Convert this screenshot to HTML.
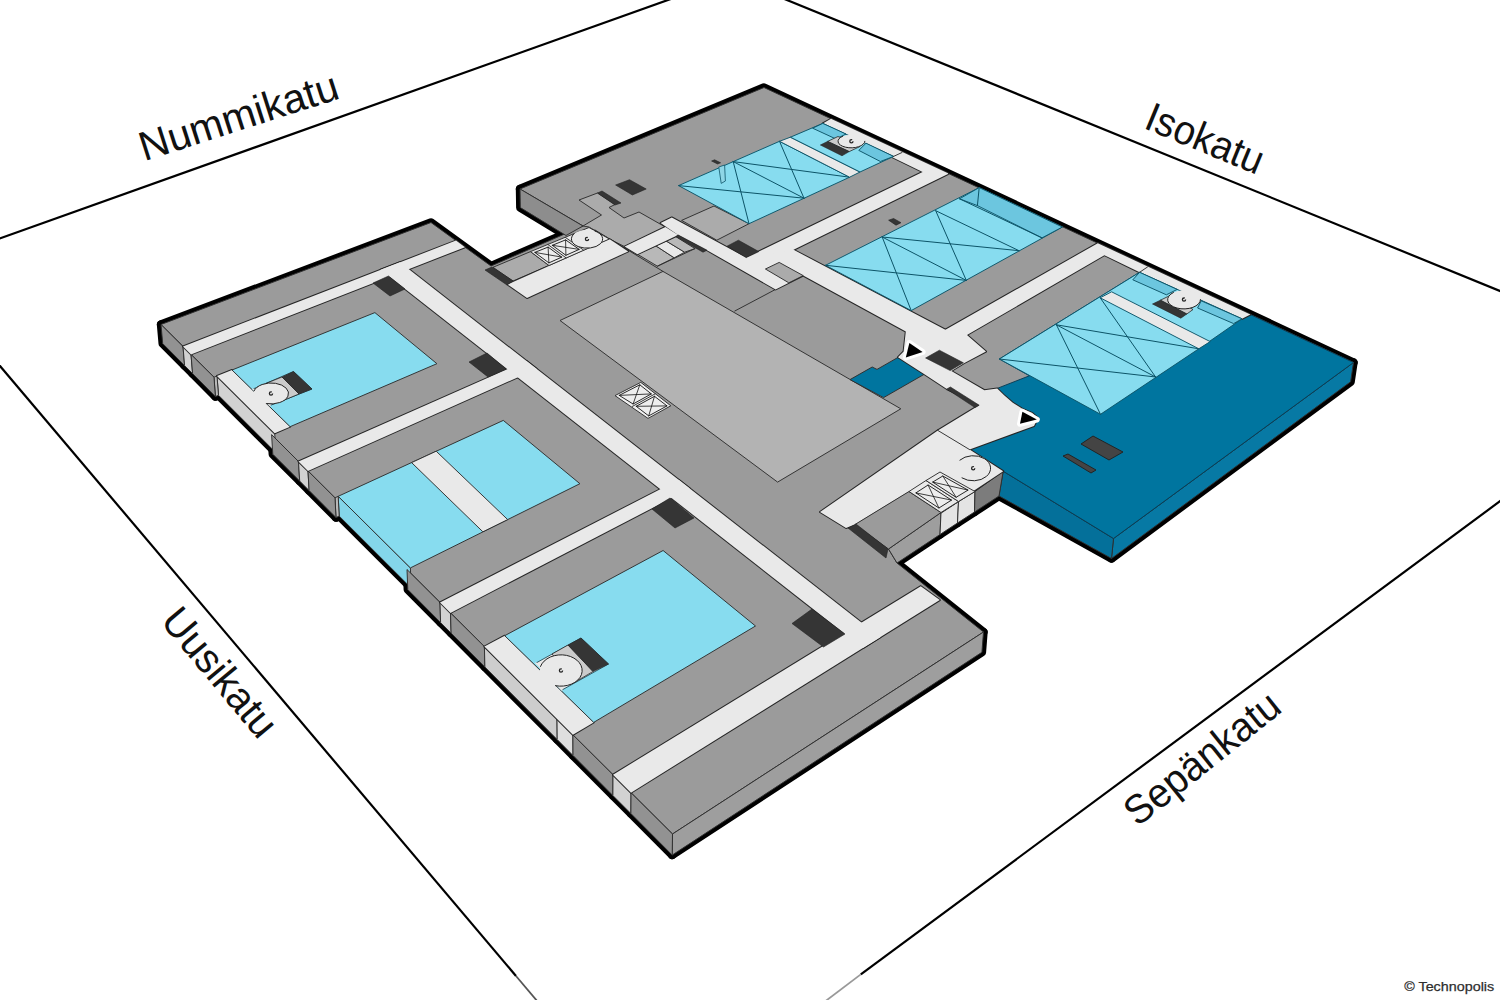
<!DOCTYPE html>
<html><head><meta charset="utf-8"><title>Technopolis</title>
<style>
html,body{margin:0;padding:0;background:#fff;}
body{width:1500px;height:1000px;overflow:hidden;font-family:"Liberation Sans",sans-serif;}
svg{display:block;}
text{font-family:"Liberation Sans",sans-serif;fill:#111;}
</style></head><body>
<svg width="1500" height="1000" viewBox="0 0 1500 1000">
<rect width="1500" height="1000" fill="#fff"/>
<line x1="-13.4" y1="243.2" x2="681.4" y2="-4.8" stroke="#000" stroke-width="2.2"/>
<line x1="772.7" y1="-5.8" x2="1514.3" y2="296.8" stroke="#000" stroke-width="2.2"/>
<line x1="-10.3" y1="353.8" x2="516.0" y2="976.0" stroke="#000" stroke-width="2.2"/>
<line x1="516.0" y1="976.0" x2="540.0" y2="1004.4" stroke="#555" stroke-width="1.8"/>
<line x1="860.8" y1="974.4" x2="1512.8" y2="491.7" stroke="#000" stroke-width="2.2"/>
<line x1="860.8" y1="974.4" x2="823.0" y2="1003.0" stroke="#999" stroke-width="1.8"/>
<text x="242.8" y="129.6" font-size="41" text-anchor="middle" textLength="207.0" lengthAdjust="spacingAndGlyphs" transform="rotate(-17.8 242.8 129.6)">Nummikatu</text>
<text x="1199.8" y="151.4" font-size="41" text-anchor="middle" textLength="124.0" lengthAdjust="spacingAndGlyphs" transform="rotate(22.4 1199.8 151.4)">Isokatu</text>
<text x="209.2" y="681.2" font-size="41" text-anchor="middle" textLength="155.0" lengthAdjust="spacingAndGlyphs" transform="rotate(50.1 209.2 681.2)">Uusikatu</text>
<text x="1210.7" y="769.1" font-size="41" text-anchor="middle" textLength="187.0" lengthAdjust="spacingAndGlyphs" transform="rotate(-38.6 1210.7 769.1)">Sepänkatu</text>
<polygon points="161.0,324.5 431.0,222.5 491.0,266.0 583.0,226.0 520.0,189.0 764.0,87.5 1353.5,362.5 1113.5,538.5 1003.2,471.2 939.0,516.0 888.5,549.0 897.0,563.0 983.5,632.0 672.5,834.0" fill="#000" stroke="#000" stroke-width="8.4" stroke-linejoin="round"/>
<polygon points="520.0,189.0 583.0,226.0 566.0,235.5 520.3,207.6" fill="#000" stroke="#000" stroke-width="8.4" stroke-linejoin="round"/>
<polygon points="672.5,834.0 983.5,632.0 981.9,652.3 672.2,855.1" fill="#000" stroke="#000" stroke-width="8.4" stroke-linejoin="round"/>
<polygon points="1113.5,538.5 1353.5,362.5 1350.6,381.8 1111.5,558.5" fill="#000" stroke="#000" stroke-width="8.4" stroke-linejoin="round"/>
<polygon points="1003.2,471.2 1113.5,538.5 1111.5,558.5 999.0,496.0" fill="#000" stroke="#000" stroke-width="8.4" stroke-linejoin="round"/>
<polygon points="888.5,549.0 941.0,512.5 940.0,534.5 897.0,563.0" fill="#000" stroke="#000" stroke-width="8.4" stroke-linejoin="round"/>
<polygon points="941.0,512.5 958.5,501.5 957.5,523.0 940.0,534.5" fill="#000" stroke="#000" stroke-width="8.4" stroke-linejoin="round"/>
<polygon points="958.5,501.5 975.0,491.5 974.5,512.0 957.5,523.0" fill="#000" stroke="#000" stroke-width="8.4" stroke-linejoin="round"/>
<polygon points="975.0,491.5 1003.2,471.2 999.0,496.0 974.5,512.0" fill="#000" stroke="#000" stroke-width="8.4" stroke-linejoin="round"/>
<polygon points="217.0,376.0 274.7,433.3 276.0,452.8 218.5,395.3" fill="#000" stroke="#000" stroke-width="8.4" stroke-linejoin="round"/>
<polygon points="214.0,377.2 217.0,376.0 218.5,395.3 215.4,396.6" fill="#000" stroke="#000" stroke-width="8.4" stroke-linejoin="round"/>
<polygon points="338.2,496.3 410.4,567.9 411.1,587.9 339.2,516.1" fill="#000" stroke="#000" stroke-width="8.4" stroke-linejoin="round"/>
<polygon points="335.0,497.8 338.2,496.3 339.2,516.1 336.0,517.6" fill="#000" stroke="#000" stroke-width="8.4" stroke-linejoin="round"/>
<polygon points="161.0,324.5 183.0,346.4 184.6,365.6 162.7,343.6" fill="#000" stroke="#000" stroke-width="8.4" stroke-linejoin="round"/>
<polygon points="183.0,346.4 191.0,354.4 192.6,373.6 184.6,365.6" fill="#000" stroke="#000" stroke-width="8.4" stroke-linejoin="round"/>
<polygon points="191.0,354.4 214.0,377.2 215.4,396.6 192.6,373.6" fill="#000" stroke="#000" stroke-width="8.4" stroke-linejoin="round"/>
<polygon points="271.6,434.6 298.5,461.5 299.7,481.1 272.8,454.2" fill="#000" stroke="#000" stroke-width="8.4" stroke-linejoin="round"/>
<polygon points="298.5,461.5 308.0,470.9 309.1,490.6 299.7,481.1" fill="#000" stroke="#000" stroke-width="8.4" stroke-linejoin="round"/>
<polygon points="308.0,470.9 335.0,497.8 336.0,517.6 309.1,490.6" fill="#000" stroke="#000" stroke-width="8.4" stroke-linejoin="round"/>
<polygon points="407.0,569.5 440.0,602.4 440.6,622.6 407.8,589.6" fill="#000" stroke="#000" stroke-width="8.4" stroke-linejoin="round"/>
<polygon points="440.0,602.4 450.5,612.9 451.1,633.1 440.6,622.6" fill="#000" stroke="#000" stroke-width="8.4" stroke-linejoin="round"/>
<polygon points="450.5,612.9 484.4,646.6 484.9,667.0 451.1,633.1" fill="#000" stroke="#000" stroke-width="8.4" stroke-linejoin="round"/>
<polygon points="484.4,646.6 557.0,719.0 557.2,739.6 484.9,667.0" fill="#000" stroke="#000" stroke-width="8.4" stroke-linejoin="round"/>
<polygon points="557.0,719.0 572.9,734.8 573.0,755.5 557.2,739.6" fill="#000" stroke="#000" stroke-width="8.4" stroke-linejoin="round"/>
<polygon points="572.9,734.8 613.0,774.7 612.9,795.6 573.0,755.5" fill="#000" stroke="#000" stroke-width="8.4" stroke-linejoin="round"/>
<polygon points="613.0,774.7 631.0,792.7 630.9,813.6 612.9,795.6" fill="#000" stroke="#000" stroke-width="8.4" stroke-linejoin="round"/>
<polygon points="631.0,792.7 672.5,834.0 672.2,855.1 630.9,813.6" fill="#000" stroke="#000" stroke-width="8.4" stroke-linejoin="round"/>
<polygon points="161.0,324.5 431.0,222.5 491.0,266.0 583.0,226.0 520.0,189.0 764.0,87.5 1353.5,362.5 1113.5,538.5 1003.2,471.2 939.0,516.0 888.5,549.0 897.0,563.0 983.5,632.0 672.5,834.0" fill="#9b9b9b" stroke="#2e2e2e" stroke-width="0.95" stroke-linejoin="round"/>
<polygon points="520.0,189.0 583.0,226.0 566.0,235.5 520.3,207.6" fill="#8d8d8d" stroke="#2e2e2e" stroke-width="0.95" stroke-linejoin="round"/>
<polygon points="672.5,834.0 983.5,632.0 981.9,652.3 672.2,855.1" fill="#9e9e9e" stroke="#2e2e2e" stroke-width="0.95" stroke-linejoin="round"/>
<polygon points="1113.5,538.5 1353.5,362.5 1350.6,381.8 1111.5,558.5" fill="#0779a4" stroke="#2e2e2e" stroke-width="0.95" stroke-linejoin="round"/>
<polygon points="1003.2,471.2 1113.5,538.5 1111.5,558.5 999.0,496.0" fill="#04709a" stroke="#2e2e2e" stroke-width="0.95" stroke-linejoin="round"/>
<polygon points="888.5,549.0 941.0,512.5 940.0,534.5 897.0,563.0" fill="#9e9e9e" stroke="#2e2e2e" stroke-width="0.95" stroke-linejoin="round"/>
<polygon points="941.0,512.5 958.5,501.5 957.5,523.0 940.0,534.5" fill="#e4e4e4" stroke="#2e2e2e" stroke-width="0.95" stroke-linejoin="round"/>
<polygon points="958.5,501.5 975.0,491.5 974.5,512.0 957.5,523.0" fill="#e4e4e4" stroke="#2e2e2e" stroke-width="0.95" stroke-linejoin="round"/>
<polygon points="975.0,491.5 1003.2,471.2 999.0,496.0 974.5,512.0" fill="#7c7c7c" stroke="#2e2e2e" stroke-width="0.95" stroke-linejoin="round"/>
<polygon points="217.0,376.0 274.7,433.3 276.0,452.8 218.5,395.3" fill="#d2d2d2" stroke="#2e2e2e" stroke-width="0.95" stroke-linejoin="round"/>
<polygon points="214.0,377.2 217.0,376.0 218.5,395.3 215.4,396.6" fill="#b9b9b9" stroke="#2e2e2e" stroke-width="0.95" stroke-linejoin="round"/>
<polygon points="338.2,496.3 410.4,567.9 411.1,587.9 339.2,516.1" fill="#84d6ea" stroke="#2e2e2e" stroke-width="0.95" stroke-linejoin="round"/>
<polygon points="335.0,497.8 338.2,496.3 339.2,516.1 336.0,517.6" fill="#b9b9b9" stroke="#2e2e2e" stroke-width="0.95" stroke-linejoin="round"/>
<polygon points="161.0,324.5 183.0,346.4 184.6,365.6 162.7,343.6" fill="#929292" stroke="#2e2e2e" stroke-width="0.95" stroke-linejoin="round"/>
<polygon points="183.0,346.4 191.0,354.4 192.6,373.6 184.6,365.6" fill="#d2d2d2" stroke="#2e2e2e" stroke-width="0.95" stroke-linejoin="round"/>
<polygon points="191.0,354.4 214.0,377.2 215.4,396.6 192.6,373.6" fill="#929292" stroke="#2e2e2e" stroke-width="0.95" stroke-linejoin="round"/>
<polygon points="271.6,434.6 298.5,461.5 299.7,481.1 272.8,454.2" fill="#929292" stroke="#2e2e2e" stroke-width="0.95" stroke-linejoin="round"/>
<polygon points="298.5,461.5 308.0,470.9 309.1,490.6 299.7,481.1" fill="#d2d2d2" stroke="#2e2e2e" stroke-width="0.95" stroke-linejoin="round"/>
<polygon points="308.0,470.9 335.0,497.8 336.0,517.6 309.1,490.6" fill="#929292" stroke="#2e2e2e" stroke-width="0.95" stroke-linejoin="round"/>
<polygon points="407.0,569.5 440.0,602.4 440.6,622.6 407.8,589.6" fill="#929292" stroke="#2e2e2e" stroke-width="0.95" stroke-linejoin="round"/>
<polygon points="440.0,602.4 450.5,612.9 451.1,633.1 440.6,622.6" fill="#d2d2d2" stroke="#2e2e2e" stroke-width="0.95" stroke-linejoin="round"/>
<polygon points="450.5,612.9 484.4,646.6 484.9,667.0 451.1,633.1" fill="#929292" stroke="#2e2e2e" stroke-width="0.95" stroke-linejoin="round"/>
<polygon points="484.4,646.6 557.0,719.0 557.2,739.6 484.9,667.0" fill="#cdcdcd" stroke="#2e2e2e" stroke-width="0.95" stroke-linejoin="round"/>
<polygon points="557.0,719.0 572.9,734.8 573.0,755.5 557.2,739.6" fill="#dedede" stroke="#2e2e2e" stroke-width="0.95" stroke-linejoin="round"/>
<polygon points="572.9,734.8 613.0,774.7 612.9,795.6 573.0,755.5" fill="#929292" stroke="#2e2e2e" stroke-width="0.95" stroke-linejoin="round"/>
<polygon points="613.0,774.7 631.0,792.7 630.9,813.6 612.9,795.6" fill="#d2d2d2" stroke="#2e2e2e" stroke-width="0.95" stroke-linejoin="round"/>
<polygon points="631.0,792.7 672.5,834.0 672.2,855.1 630.9,813.6" fill="#929292" stroke="#2e2e2e" stroke-width="0.95" stroke-linejoin="round"/>
<polygon points="1250.4,314.6 1353.5,362.5 1113.5,538.5 1003.2,471.2 969.6,449.6 1034.0,426.0 1038.0,418.0 1032.0,412.8 1022.4,408.8 1012.8,402.8 1004.4,395.6 997.2,388.4 1029.4,375.8 999.4,359.0 1139.6,272.3 1242.0,318.8" fill="#00759f" stroke="#0a3d55" stroke-width="0.95" stroke-linejoin="round"/>
<polygon points="1081.0,444.0 1093.0,436.0 1123.0,452.0 1109.0,460.0" fill="#444" stroke="#222" stroke-width="0.95" stroke-linejoin="round"/>
<polygon points="1063.0,456.0 1068.0,454.0 1096.0,470.0 1091.0,473.0" fill="#444" stroke="#222" stroke-width="0.95" stroke-linejoin="round"/>
<polygon points="560.0,320.5 663.0,271.4 900.8,408.8 777.6,482.1" fill="#b3b3b3" stroke="#2e2e2e" stroke-width="0.95" stroke-linejoin="round"/>
<polygon points="579.0,200.0 597.5,193.0 615.0,204.5 609.0,207.5 624.0,218.0 639.0,212.0 665.4,227.0 624.6,246.6 609.4,239.0 589.0,227.0 583.0,226.0 601.5,215.0" fill="#ababab" stroke="#2e2e2e" stroke-width="0.95" stroke-linejoin="round"/>
<polygon points="681.6,220.4 714.0,206.0 749.0,223.7 716.8,240.2" fill="#ababab" stroke="#2e2e2e" stroke-width="0.95" stroke-linejoin="round"/>
<polygon points="493.0,267.3 530.5,251.6 549.0,265.5 513.0,281.0" fill="#ababab" stroke="#2e2e2e" stroke-width="0.95" stroke-linejoin="round"/>
<polygon points="850.0,379.6 872.2,367.0 877.0,369.4 898.0,357.4 924.4,374.2 883.6,397.6" fill="#00759f" stroke="#2e2e2e" stroke-width="0.95" stroke-linejoin="round"/>
<polygon points="637.4,254.2 655.8,245.8 674.2,257.8 657.4,266.2" fill="#b8b8b8" stroke="#2e2e2e" stroke-width="0.95" stroke-linejoin="round"/>
<polygon points="655.8,245.8 666.2,241.0 684.6,252.2 674.2,257.8" fill="#e9e9e9" stroke="#2e2e2e" stroke-width="0.95" stroke-linejoin="round"/>
<polygon points="666.2,241.0 675.8,236.6 695.0,248.6 684.6,252.2" fill="#b8b8b8" stroke="#2e2e2e" stroke-width="0.95" stroke-linejoin="round"/>
<line x1="595.0" y1="230.0" x2="663.0" y2="271.4" stroke="#2e2e2e" stroke-width="0.95" stroke-linecap="round"/>
<line x1="657.4" y1="266.2" x2="695.0" y2="248.6" stroke="#2e2e2e" stroke-width="0.95" stroke-linecap="round"/>
<line x1="734.8" y1="311.0" x2="775.6" y2="289.4" stroke="#2e2e2e" stroke-width="0.95" stroke-linecap="round"/>
<polygon points="183.0,346.4 456.0,240.6 465.0,247.2 191.0,354.4" fill="#e9e9e9" stroke="#262626" stroke-width="2.0" stroke-linejoin="round"/>
<polygon points="380.6,269.8 400.0,262.3 880.3,637.2 862.9,648.1" fill="#e9e9e9" stroke="#262626" stroke-width="2.0" stroke-linejoin="round"/>
<polygon points="298.5,461.5 526.3,360.9 536.6,368.9 308.0,470.9" fill="#e9e9e9" stroke="#262626" stroke-width="2.0" stroke-linejoin="round"/>
<polygon points="440.0,602.4 678.6,479.8 689.8,488.6 450.5,612.9" fill="#e9e9e9" stroke="#262626" stroke-width="2.0" stroke-linejoin="round"/>
<polygon points="613.0,774.7 920.8,586.2 939.8,600.1 631.0,792.7" fill="#e9e9e9" stroke="#262626" stroke-width="2.0" stroke-linejoin="round"/>
<polygon points="217.0,376.0 232.0,370.0 290.1,426.7 274.7,433.3" fill="#e9e9e9" stroke="#262626" stroke-width="2.0" stroke-linejoin="round"/>
<polygon points="484.4,646.6 504.7,635.7 593.7,722.4 572.9,734.8" fill="#e9e9e9" stroke="#262626" stroke-width="2.0" stroke-linejoin="round"/>
<polygon points="831.0,118.8 948.0,173.3 948.0,174.0 793.6,249.8 775.0,270.0 746.2,257.6 922.6,171.9 822.8,123.4" fill="#e9e9e9" stroke="#262626" stroke-width="2.0" stroke-linejoin="round"/>
<polygon points="1097.8,243.2 1250.4,314.6 1242.0,318.8 1139.6,272.3 1104.4,255.2 967.0,335.0 950.0,340.0 945.4,329.7" fill="#e9e9e9" stroke="#262626" stroke-width="2.0" stroke-linejoin="round"/>
<polygon points="507.5,284.5 609.4,239.0 628.2,251.4 527.0,298.0" fill="#e9e9e9" stroke="#262626" stroke-width="2.0" stroke-linejoin="round"/>
<polygon points="624.6,246.6 665.4,227.0 678.2,235.0 637.4,254.2" fill="#e9e9e9" stroke="#262626" stroke-width="2.0" stroke-linejoin="round"/>
<polygon points="660.6,223.0 671.8,217.4 746.2,257.6 793.6,249.8 945.4,329.7 967.0,335.0 986.0,351.5 964.0,363.2 951.4,371.0 984.4,390.2 997.2,388.4 1004.4,395.6 1012.8,402.8 1022.4,408.8 1032.0,412.8 1038.0,418.0 1034.0,426.0 969.6,449.6 937.8,430.4 979.2,405.2 946.8,389.0 924.4,374.2 898.0,357.2 903.6,351.5 905.8,331.6 803.2,275.6 775.6,289.4 707.0,250.2 678.2,235.0" fill="#e9e9e9" stroke="#262626" stroke-width="2.0" stroke-linejoin="round"/>
<polygon points="820.0,512.0 937.8,430.4 960.0,435.0 969.6,449.6 1003.2,471.2 941.0,512.5 909.0,491.5 855.0,524.5 846.0,528.0" fill="#e9e9e9" stroke="#262626" stroke-width="2.0" stroke-linejoin="round"/>
<polygon points="183.0,346.4 456.0,240.6 465.0,247.2 191.0,354.4" fill="#e9e9e9"/>
<polygon points="380.6,269.8 400.0,262.3 880.3,637.2 862.9,648.1" fill="#e9e9e9"/>
<polygon points="298.5,461.5 526.3,360.9 536.6,368.9 308.0,470.9" fill="#e9e9e9"/>
<polygon points="440.0,602.4 678.6,479.8 689.8,488.6 450.5,612.9" fill="#e9e9e9"/>
<polygon points="613.0,774.7 920.8,586.2 939.8,600.1 631.0,792.7" fill="#e9e9e9"/>
<polygon points="217.0,376.0 232.0,370.0 290.1,426.7 274.7,433.3" fill="#e9e9e9"/>
<polygon points="484.4,646.6 504.7,635.7 593.7,722.4 572.9,734.8" fill="#e9e9e9"/>
<polygon points="831.0,118.8 948.0,173.3 948.0,174.0 793.6,249.8 775.0,270.0 746.2,257.6 922.6,171.9 822.8,123.4" fill="#e9e9e9"/>
<polygon points="1097.8,243.2 1250.4,314.6 1242.0,318.8 1139.6,272.3 1104.4,255.2 967.0,335.0 950.0,340.0 945.4,329.7" fill="#e9e9e9"/>
<polygon points="507.5,284.5 609.4,239.0 628.2,251.4 527.0,298.0" fill="#e9e9e9"/>
<polygon points="624.6,246.6 665.4,227.0 678.2,235.0 637.4,254.2" fill="#e9e9e9"/>
<polygon points="660.6,223.0 671.8,217.4 746.2,257.6 793.6,249.8 945.4,329.7 967.0,335.0 986.0,351.5 964.0,363.2 951.4,371.0 984.4,390.2 997.2,388.4 1004.4,395.6 1012.8,402.8 1022.4,408.8 1032.0,412.8 1038.0,418.0 1034.0,426.0 969.6,449.6 937.8,430.4 979.2,405.2 946.8,389.0 924.4,374.2 898.0,357.2 903.6,351.5 905.8,331.6 803.2,275.6 775.6,289.4 707.0,250.2 678.2,235.0" fill="#e9e9e9"/>
<polygon points="820.0,512.0 937.8,430.4 960.0,435.0 969.6,449.6 1003.2,471.2 941.0,512.5 909.0,491.5 855.0,524.5 846.0,528.0" fill="#e9e9e9"/>
<polygon points="678.6,185.6 779.5,141.3 849.6,177.2 749.0,223.7" fill="#87dcef" stroke="#0c5468" stroke-width="0.95" stroke-linejoin="round"/>
<line x1="678.6" y1="185.6" x2="804.0" y2="198.2" stroke="#0c5468" stroke-width="1.0" stroke-linecap="round"/>
<line x1="733.2" y1="161.6" x2="749.0" y2="223.7" stroke="#0c5468" stroke-width="1.0" stroke-linecap="round"/>
<line x1="733.2" y1="161.6" x2="849.6" y2="177.2" stroke="#0c5468" stroke-width="1.0" stroke-linecap="round"/>
<line x1="779.5" y1="141.3" x2="804.0" y2="198.2" stroke="#0c5468" stroke-width="1.0" stroke-linecap="round"/>
<line x1="733.2" y1="161.6" x2="804.0" y2="198.2" stroke="#0c5468" stroke-width="1.0" stroke-linecap="round"/>
<polygon points="779.5,141.3 790.4,137.2 860.0,172.0 849.6,177.2" fill="#e9e9e9" stroke="#0c5468" stroke-width="0.95" stroke-linejoin="round"/>
<polygon points="790.4,137.2 822.8,123.4 893.6,156.4 860.0,172.0" fill="#87dcef" stroke="#0c5468" stroke-width="0.95" stroke-linejoin="round"/>
<polygon points="825.5,265.3 979.2,187.6 1062.4,227.0 911.2,310.6" fill="#87dcef" stroke="#0c5468" stroke-width="0.95" stroke-linejoin="round"/>
<polygon points="999.4,359.0 1139.6,272.3 1242.0,318.8 1198.8,348.8 1100.5,414.3" fill="#87dcef" stroke="#0c5468" stroke-width="0.95" stroke-linejoin="round"/>
<polygon points="1100.2,297.8 1111.6,291.8 1210.2,341.6 1198.8,348.8" fill="#e9e9e9" stroke="#0c5468" stroke-width="0.95" stroke-linejoin="round"/>
<polygon points="765.4,269.0 779.2,262.4 803.2,275.6 788.8,282.8" fill="#ababab" stroke="#2e2e2e" stroke-width="0.95" stroke-linejoin="round"/>
<polygon points="855.0,524.5 909.0,491.5 941.0,512.5 888.5,549.0" fill="#9b9b9b" stroke="#2e2e2e" stroke-width="0.95" stroke-linejoin="round"/>
<polygon points="909.0,491.5 926.0,480.5 958.5,501.5 941.0,512.5" fill="#e9e9e9" stroke="#2e2e2e" stroke-width="0.95" stroke-linejoin="round"/>
<polygon points="926.0,480.5 940.0,472.0 975.0,491.5 958.5,501.5" fill="#e9e9e9" stroke="#2e2e2e" stroke-width="0.95" stroke-linejoin="round"/>
<line x1="825.5" y1="265.3" x2="966.3" y2="280.4" stroke="#0c5468" stroke-width="1.0" stroke-linecap="round"/>
<line x1="882.2" y1="237.0" x2="911.2" y2="310.6" stroke="#0c5468" stroke-width="1.0" stroke-linecap="round"/>
<line x1="882.2" y1="237.0" x2="1019.0" y2="250.7" stroke="#0c5468" stroke-width="1.0" stroke-linecap="round"/>
<line x1="935.7" y1="210.7" x2="966.3" y2="280.4" stroke="#0c5468" stroke-width="1.0" stroke-linecap="round"/>
<line x1="882.2" y1="237.0" x2="966.3" y2="280.4" stroke="#0c5468" stroke-width="1.0" stroke-linecap="round"/>
<line x1="935.7" y1="210.7" x2="1019.0" y2="250.7" stroke="#0c5468" stroke-width="1.0" stroke-linecap="round"/>
<polygon points="959.5,198.8 979.2,187.6 1062.4,227.0 1042.0,237.9 977.4,205.6" fill="#6cc6df" stroke="#0c5468" stroke-width="0.95" stroke-linejoin="round"/>
<line x1="979.2" y1="187.6" x2="977.4" y2="205.6" stroke="#0c5468" stroke-width="1.0" stroke-linecap="round"/>
<line x1="959.5" y1="198.8" x2="1042.0" y2="237.9" stroke="#0c5468" stroke-width="1.0" stroke-linecap="round"/>
<line x1="999.4" y1="359.0" x2="1155.6" y2="377.0" stroke="#0c5468" stroke-width="1.0" stroke-linecap="round"/>
<line x1="1056.4" y1="324.8" x2="1100.5" y2="414.3" stroke="#0c5468" stroke-width="1.0" stroke-linecap="round"/>
<line x1="1056.4" y1="324.8" x2="1198.8" y2="348.8" stroke="#0c5468" stroke-width="1.0" stroke-linecap="round"/>
<line x1="1100.2" y1="297.8" x2="1155.6" y2="377.0" stroke="#0c5468" stroke-width="1.0" stroke-linecap="round"/>
<line x1="1056.4" y1="324.8" x2="1155.6" y2="377.0" stroke="#0c5468" stroke-width="1.0" stroke-linecap="round"/>
<polygon points="812.6,128.2 822.8,123.4 846.0,134.0 836.0,139.0" fill="#6cc6df" stroke="#0c5468" stroke-width="0.95" stroke-linejoin="round"/>
<polygon points="866.0,143.2 893.6,156.4 880.4,161.5 858.8,150.4" fill="#6cc6df" stroke="#0c5468" stroke-width="0.95" stroke-linejoin="round"/>
<polygon points="1132.8,279.8 1139.6,272.3 1177.2,289.4 1166.4,294.8" fill="#6cc6df" stroke="#0c5468" stroke-width="0.95" stroke-linejoin="round"/>
<polygon points="1201.2,300.8 1242.0,318.8 1233.6,323.6 1197.6,308.0" fill="#6cc6df" stroke="#0c5468" stroke-width="0.95" stroke-linejoin="round"/>
<polygon points="232.0,370.0 374.9,312.6 436.9,363.7 290.1,426.7" fill="#87dcef" stroke="#2e2e2e" stroke-width="0.95" stroke-linejoin="round"/>
<polygon points="338.2,496.3 503.3,420.4 579.9,483.7 410.4,567.9" fill="#87dcef" stroke="#2e2e2e" stroke-width="0.95" stroke-linejoin="round"/>
<polygon points="411.6,462.6 436.2,451.2 507.7,519.6 482.9,531.8" fill="#e9e9e9" stroke="#2e2e2e" stroke-width="0.95" stroke-linejoin="round"/>
<polygon points="504.7,635.7 663.1,550.5 755.5,626.0 593.7,722.4" fill="#87dcef" stroke="#2e2e2e" stroke-width="0.95" stroke-linejoin="round"/>
<polygon points="388.5,276.0 405.0,289.0 390.0,296.0 373.0,283.0" fill="#353535" stroke="#222" stroke-width="0.6" stroke-linejoin="round"/>
<polygon points="469.0,362.0 487.0,353.0 506.0,369.0 488.0,377.0" fill="#353535" stroke="#222" stroke-width="0.6" stroke-linejoin="round"/>
<polygon points="652.0,509.0 670.0,498.0 694.0,518.0 675.0,528.0" fill="#353535" stroke="#222" stroke-width="0.6" stroke-linejoin="round"/>
<polygon points="792.0,623.5 812.0,609.0 845.0,634.0 823.5,647.0" fill="#353535" stroke="#222" stroke-width="0.6" stroke-linejoin="round"/>
<polygon points="615.6,185.0 629.5,179.7 646.2,189.0 632.4,195.0" fill="#353535" stroke="#222" stroke-width="0.6" stroke-linejoin="round"/>
<polygon points="597.5,193.0 602.0,191.0 621.0,203.0 615.0,205.0" fill="#353535" stroke="#222" stroke-width="0.6" stroke-linejoin="round"/>
<polygon points="678.2,235.0 707.0,250.2 703.0,252.2 675.8,236.6" fill="#353535" stroke="#222" stroke-width="0.6" stroke-linejoin="round"/>
<polygon points="727.0,246.2 738.4,240.2 758.8,251.6 746.2,257.6" fill="#353535" stroke="#222" stroke-width="0.6" stroke-linejoin="round"/>
<polygon points="925.6,358.0 939.4,350.2 963.4,362.8 950.2,370.6" fill="#353535" stroke="#222" stroke-width="0.6" stroke-linejoin="round"/>
<polygon points="946.8,389.0 950.4,387.0 979.2,405.2 975.0,407.6" fill="#353535" stroke="#222" stroke-width="0.6" stroke-linejoin="round"/>
<polygon points="485.0,270.0 492.0,267.0 513.0,281.0 507.0,285.0" fill="#353535" stroke="#222" stroke-width="0.6" stroke-linejoin="round"/>
<polygon points="848.0,528.0 856.0,524.0 888.0,549.0 886.0,558.0" fill="#353535" stroke="#222" stroke-width="0.6" stroke-linejoin="round"/>
<polygon points="711.6,161.0 714.6,159.8 720.6,162.8 717.6,164.0" fill="#353535" stroke="#222" stroke-width="0.6" stroke-linejoin="round"/>
<polygon points="888.6,220.2 893.6,218.5 901.0,222.7 896.0,225.2" fill="#353535" stroke="#222" stroke-width="0.6" stroke-linejoin="round"/>
<polygon points="909.4,343.0 922.6,352.0 905.8,357.4" fill="#000" stroke="#fff" stroke-width="6" stroke-linejoin="round"/>
<polygon points="909.4,343.0 922.6,352.0 905.8,357.4" fill="#000"/>
<polygon points="1022.4,411.8 1036.8,419.6 1020.0,423.8" fill="#000" stroke="#fff" stroke-width="6" stroke-linejoin="round"/>
<polygon points="1022.4,411.8 1036.8,419.6 1020.0,423.8" fill="#000"/>
<polygon points="915.9,492.9 928.1,485.0 951.5,500.1 938.9,508.0" fill="#ededed" stroke="#111" stroke-width="0.9" stroke-linejoin="round"/>
<line x1="915.9" y1="492.9" x2="951.5" y2="500.1" stroke="#111" stroke-width="0.8" stroke-linecap="round"/>
<line x1="928.1" y1="485.0" x2="938.9" y2="508.0" stroke="#111" stroke-width="0.8" stroke-linecap="round"/>
<polygon points="932.7,482.1 942.8,476.0 968.0,490.1 956.1,497.3" fill="#ededed" stroke="#111" stroke-width="0.9" stroke-linejoin="round"/>
<line x1="932.7" y1="482.1" x2="968.0" y2="490.1" stroke="#111" stroke-width="0.8" stroke-linecap="round"/>
<line x1="942.8" y1="476.0" x2="956.1" y2="497.3" stroke="#111" stroke-width="0.8" stroke-linecap="round"/>
<ellipse cx="973.2" cy="468.2" rx="17.4" ry="12.6" fill="#e9e9e9" transform="rotate(0.0 973.2 468.2)"/>
<path d="M959.9,460.1 A17.4,12.6 0 1 1 962.0,477.9" fill="none" stroke="#222" stroke-width="1" stroke-linecap="round" transform="rotate(0.0 973.2 468.2)"/>
<circle cx="973.2" cy="468.2" r="1.6" fill="none" stroke="#222" stroke-width="1.3" stroke-dasharray="7.5 2.5"/>
<polygon points="827.6,141.4 838.0,136.5 860.0,146.5 849.2,151.6" fill="#cbcbcb" stroke="#111" stroke-width="0.7" stroke-linejoin="round"/>
<polygon points="820.4,145.0 827.6,141.4 849.2,151.6 842.0,155.8" fill="#353535" stroke="#222" stroke-width="0.6" stroke-linejoin="round"/>
<ellipse cx="851.4" cy="141.3" rx="13.5" ry="6.6" fill="#e9e9e9" transform="rotate(0.0 851.4 141.3)"/>
<path d="M864.9,141.3 A13.5,6.6 0 1 1 842.7,136.2" fill="none" stroke="#222" stroke-width="1" stroke-linecap="round" transform="rotate(0.0 851.4 141.3)"/>
<circle cx="851.4" cy="141.3" r="1.6" fill="none" stroke="#222" stroke-width="1.3" stroke-dasharray="7.5 2.5"/>
<polygon points="1160.4,300.2 1169.0,296.0 1193.0,309.5 1186.8,314.0" fill="#cbcbcb" stroke="#111" stroke-width="0.7" stroke-linejoin="round"/>
<polygon points="1152.5,304.0 1160.4,300.2 1186.8,314.0 1180.8,318.2" fill="#353535" stroke="#222" stroke-width="0.6" stroke-linejoin="round"/>
<ellipse cx="1184.0" cy="299.6" rx="16.5" ry="9.3" fill="#e9e9e9" transform="rotate(0.0 1184.0 299.6)"/>
<path d="M1200.5,299.6 A16.5,9.3 0 1 1 1173.4,292.5" fill="none" stroke="#222" stroke-width="1" stroke-linecap="round" transform="rotate(0.0 1184.0 299.6)"/>
<circle cx="1184.0" cy="299.6" r="1.6" fill="none" stroke="#222" stroke-width="1.3" stroke-dasharray="7.5 2.5"/>
<polygon points="253.0,389.0 293.5,371.5 312.0,389.0 270.0,405.5" fill="#e9e9e9" stroke="#0c3a48" stroke-width="0.8" stroke-linejoin="round"/>
<line x1="253.0" y1="389.0" x2="270.0" y2="405.5" stroke="#e9e9e9" stroke-width="1.6" stroke-linecap="round"/>
<polygon points="266.0,383.4 282.0,377.0 299.0,394.0 282.0,401.0" fill="#cbcbcb" stroke="#111" stroke-width="0.7" stroke-linejoin="round"/>
<polygon points="282.0,377.0 293.5,371.5 312.0,389.0 299.0,394.0" fill="#353535" stroke="#222" stroke-width="0.6" stroke-linejoin="round"/>
<ellipse cx="271.0" cy="393.5" rx="17.5" ry="10.5" fill="#e9e9e9" transform="rotate(0.0 271.0 393.5)"/>
<path d="M254.1,390.8 A17.5,10.5 0 1 1 266.5,403.6" fill="none" stroke="#222" stroke-width="1" stroke-linecap="round" transform="rotate(0.0 271.0 393.5)"/>
<circle cx="271.0" cy="393.5" r="1.6" fill="none" stroke="#222" stroke-width="1.3" stroke-dasharray="7.5 2.5"/>
<polygon points="536.0,663.0 581.0,638.0 608.5,664.0 562.0,690.0" fill="#e9e9e9" stroke="#0c3a48" stroke-width="0.8" stroke-linejoin="round"/>
<line x1="536.0" y1="663.0" x2="562.0" y2="690.0" stroke="#e9e9e9" stroke-width="1.6" stroke-linecap="round"/>
<polygon points="552.0,654.0 568.0,645.0 593.0,671.5 576.0,681.5" fill="#cbcbcb" stroke="#111" stroke-width="0.7" stroke-linejoin="round"/>
<polygon points="568.0,645.0 581.0,638.0 608.5,664.0 593.0,671.5" fill="#353535" stroke="#222" stroke-width="0.6" stroke-linejoin="round"/>
<ellipse cx="561.0" cy="670.5" rx="21.2" ry="15.7" fill="#e9e9e9" transform="rotate(0.0 561.0 670.5)"/>
<path d="M540.5,666.4 A21.2,15.7 0 1 1 555.5,685.7" fill="none" stroke="#222" stroke-width="1" stroke-linecap="round" transform="rotate(0.0 561.0 670.5)"/>
<circle cx="561.0" cy="670.5" r="1.6" fill="none" stroke="#222" stroke-width="1.3" stroke-dasharray="7.5 2.5"/>
<polygon points="530.5,251.6 589.0,227.5 609.4,239.0 549.0,265.5" fill="#e9e9e9" stroke="#2e2e2e" stroke-width="0.95" stroke-linejoin="round"/>
<line x1="565.5" y1="237.5" x2="583.5" y2="250.0" stroke="#2e2e2e" stroke-width="0.95" stroke-linecap="round"/>
<ellipse cx="587.0" cy="239.0" rx="15.7" ry="9.2" fill="#e9e9e9" transform="rotate(0.0 587.0 239.0)"/>
<path d="M594.9,231.0 A15.7,9.2 0 1 1 574.1,233.7" fill="none" stroke="#222" stroke-width="1" stroke-linecap="round" transform="rotate(0.0 587.0 239.0)"/>
<circle cx="587.0" cy="239.0" r="1.6" fill="none" stroke="#222" stroke-width="1.3" stroke-dasharray="7.5 2.5"/>
<polygon points="534.8,252.4 548.1,247.1 561.8,257.1 548.9,262.9" fill="#ededed" stroke="#111" stroke-width="0.9" stroke-linejoin="round"/>
<line x1="534.8" y1="252.4" x2="561.8" y2="257.1" stroke="#111" stroke-width="0.8" stroke-linecap="round"/>
<line x1="548.1" y1="247.1" x2="548.9" y2="262.9" stroke="#111" stroke-width="0.8" stroke-linecap="round"/>
<polygon points="552.3,245.3 565.6,239.9 579.2,249.4 565.9,255.3" fill="#ededed" stroke="#111" stroke-width="0.9" stroke-linejoin="round"/>
<line x1="552.3" y1="245.3" x2="579.2" y2="249.4" stroke="#111" stroke-width="0.8" stroke-linecap="round"/>
<line x1="565.6" y1="239.9" x2="565.9" y2="255.3" stroke="#111" stroke-width="0.8" stroke-linecap="round"/>
<line x1="548.0" y1="244.6" x2="566.0" y2="257.8" stroke="#2e2e2e" stroke-width="0.95" stroke-linecap="round"/>
<polygon points="615.0,395.6 640.8,382.4 670.8,405.8 648.0,418.4" fill="#f0f0f0" stroke="#2e2e2e" stroke-width="0.95" stroke-linejoin="round"/>
<polygon points="619.2,395.4 639.8,384.8 651.3,393.9 633.1,404.0" fill="#ededed" stroke="#111" stroke-width="0.9" stroke-linejoin="round"/>
<line x1="619.2" y1="395.4" x2="651.3" y2="393.9" stroke="#111" stroke-width="0.8" stroke-linecap="round"/>
<line x1="639.8" y1="384.8" x2="633.1" y2="404.0" stroke="#111" stroke-width="0.8" stroke-linecap="round"/>
<polygon points="636.2,406.3 654.5,396.3 667.0,405.9 648.7,415.9" fill="#ededed" stroke="#111" stroke-width="0.9" stroke-linejoin="round"/>
<line x1="636.2" y1="406.3" x2="667.0" y2="405.9" stroke="#111" stroke-width="0.8" stroke-linecap="round"/>
<line x1="654.5" y1="396.3" x2="648.7" y2="415.9" stroke="#111" stroke-width="0.8" stroke-linecap="round"/>
<line x1="632.4" y1="406.4" x2="655.2" y2="393.8" stroke="#2e2e2e" stroke-width="0.95" stroke-linecap="round"/>
<line x1="893.6" y1="156.4" x2="902.0" y2="152.5" stroke="#2e2e2e" stroke-width="0.95" stroke-linecap="round"/>
<line x1="1139.6" y1="272.3" x2="1147.5" y2="267.0" stroke="#2e2e2e" stroke-width="0.95" stroke-linecap="round"/>
<line x1="937.8" y1="430.4" x2="969.6" y2="449.6" stroke="#2e2e2e" stroke-width="0.95" stroke-linecap="round"/>
<polygon points="718.8,167.0 724.6,165.0 725.4,181.0 721.2,183.4" fill="#8fd6e6" stroke="#0c5468" stroke-width="0.8" stroke-linejoin="round"/>
<text x="1494.2" y="990.8" font-size="13.6" text-anchor="end" textLength="90" lengthAdjust="spacingAndGlyphs" style="fill:#2e2e2e;stroke:#2e2e2e;stroke-width:0.25">© Technopolis</text>
</svg>
</body></html>
